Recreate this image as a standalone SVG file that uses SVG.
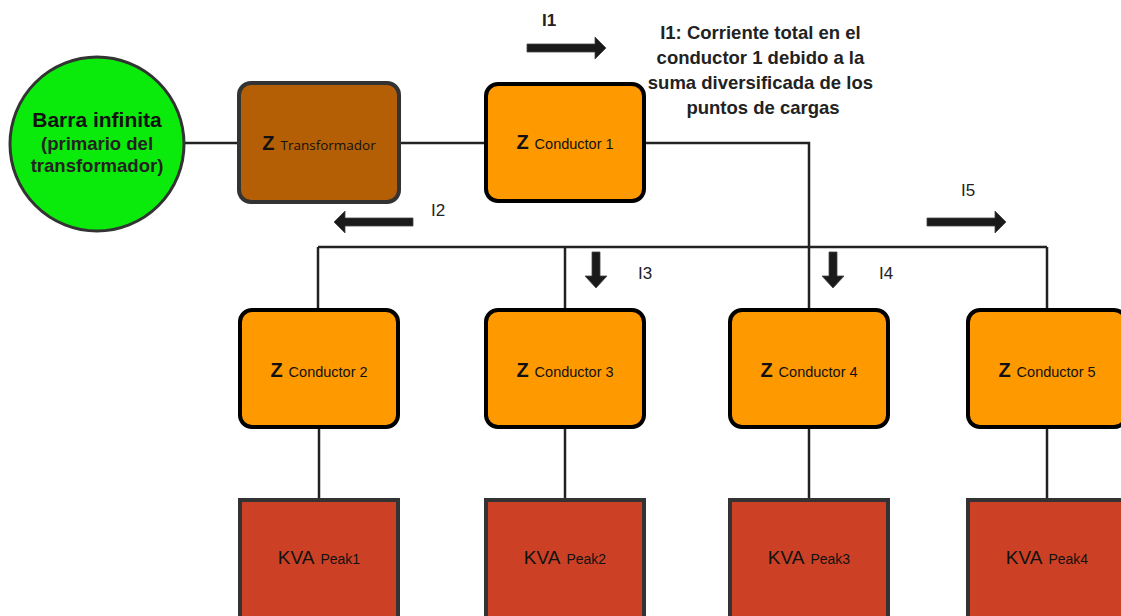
<svg xmlns="http://www.w3.org/2000/svg" width="1121" height="616" viewBox="0 0 1121 616">
<style>
.wire{fill:none;stroke:#222;stroke-width:2.5}
.cond{fill:#FF9900;stroke:#000;stroke-width:4}
.kva{fill:#CC4125;stroke:#333;stroke-width:4}
.arr{fill:#1a1a1a;stroke:#444;stroke-width:0.8}
.z{font-family:"Liberation Sans",Arial,sans-serif;font-weight:bold;font-size:20px;fill:#111}
.sub{font-family:"Liberation Sans",Arial,sans-serif;font-size:14.5px;fill:#111}
.tsub{font-family:"Open Sans","Liberation Sans",sans-serif;font-size:13.5px;fill:#111}
.kv{font-family:"Liberation Sans",Arial,sans-serif;font-size:19px;fill:#111}
.ksub{font-family:"Liberation Sans",Arial,sans-serif;font-size:14px;fill:#111}
.lbl{font-family:"Liberation Sans",Arial,sans-serif;font-size:17px;fill:#222}
.note{font-family:"Liberation Sans",Arial,sans-serif;font-weight:bold;font-size:18.5px;fill:#222}
</style>
<rect width="1121" height="616" fill="#fff"/>
<g id="connectors">
<line class="wire" x1="185" y1="143" x2="238" y2="143"/>
<line class="wire" x1="400" y1="143" x2="485" y2="143"/>
<polyline class="wire" points="645,143 809,143 809,309"/>
<line class="wire" x1="318" y1="247" x2="1047" y2="247"/>
<line class="wire" x1="318" y1="247" x2="318" y2="309"/>
<line class="wire" x1="565" y1="247" x2="565" y2="309"/>
<line class="wire" x1="1047" y1="247" x2="1047" y2="309"/>
<line class="wire" x1="319" y1="428" x2="319" y2="499"/>
<line class="wire" x1="565" y1="428" x2="565" y2="499"/>
<line class="wire" x1="809" y1="428" x2="809" y2="499"/>
<line class="wire" x1="1047" y1="428" x2="1047" y2="499"/>
</g>
<g id="arrows">
<polygon class="arr" points="527,44 595,44 595,37 606,48 595,59 595,52 527,52"/>
<polygon class="arr" points="413,218 345,218 345,211 334,222 345,233 345,226 413,226"/>
<polygon class="arr" points="592,252 600,252 600,276 607,276 596,288 585,276 592,276"/>
<polygon class="arr" points="829,252 837,252 837,276 844,276 833,288 822,276 829,276"/>
<polygon class="arr" points="927,218 995,218 995,211 1006,222 995,233 995,226 927,226"/>
</g>
<g id="labels">
<text class="lbl" x="549" y="26" text-anchor="middle" font-weight="bold">I1</text>
<text class="lbl" x="438" y="216" text-anchor="middle">I2</text>
<text class="lbl" x="645" y="279" text-anchor="middle">I3</text>
<text class="lbl" x="886" y="279" text-anchor="middle">I4</text>
<text class="lbl" x="968" y="196" text-anchor="middle">I5</text>
</g>
<g id="note">
<text class="note" text-anchor="middle">
<tspan x="763" y="39">I1: Corriente total en el</tspan>
<tspan x="763" y="64">conductor 1 debido a la</tspan>
<tspan x="763" y="89">suma diversificada de los</tspan>
<tspan x="763" y="114">puntos de cargas</tspan>
</text>
</g>
<g id="barra">
<circle cx="97" cy="144" r="87" fill="#0BEB0B" stroke="#333" stroke-width="3"/>
<text x="97" y="127" text-anchor="middle" font-family="Liberation Sans, Arial, sans-serif" font-weight="bold" font-size="21" fill="#111">Barra infinita</text>
<text x="97" y="150" text-anchor="middle" font-family="Liberation Sans, Arial, sans-serif" font-weight="bold" font-size="18.5" fill="#222">(primario del</text>
<text x="97" y="172" text-anchor="middle" font-family="Liberation Sans, Arial, sans-serif" font-weight="bold" font-size="18.5" fill="#222">transformador)</text>
</g>
<g id="transformador">
<rect x="239" y="83" width="160" height="119" rx="12" fill="#B45F06" stroke="#333" stroke-width="4"/>
<text x="319" y="150" text-anchor="middle"><tspan class="z">Z</tspan><tspan class="tsub" dx="6">Transformador</tspan></text>
</g>
<g id="conductor1">
<rect class="cond" x="486" y="84" width="158" height="117" rx="12"/>
<text x="565" y="149" text-anchor="middle"><tspan class="z">Z</tspan><tspan class="sub" dx="6">Conductor 1</tspan></text>
</g>
<g id="conductor2">
<rect class="cond" x="240" y="310" width="158" height="117" rx="12"/>
<text x="319" y="377" text-anchor="middle"><tspan class="z">Z</tspan><tspan class="sub" dx="6">Conductor 2</tspan></text>
</g>
<g id="conductor3">
<rect class="cond" x="486" y="310" width="158" height="117" rx="12"/>
<text x="565" y="377" text-anchor="middle"><tspan class="z">Z</tspan><tspan class="sub" dx="6">Conductor 3</tspan></text>
</g>
<g id="conductor4">
<rect class="cond" x="730" y="310" width="158" height="117" rx="12"/>
<text x="809" y="377" text-anchor="middle"><tspan class="z">Z</tspan><tspan class="sub" dx="6">Conductor 4</tspan></text>
</g>
<g id="conductor5">
<rect class="cond" x="968" y="310" width="158" height="117" rx="12"/>
<text x="1047" y="377" text-anchor="middle"><tspan class="z">Z</tspan><tspan class="sub" dx="6">Conductor 5</tspan></text>
</g>
<g id="peak1">
<rect class="kva" x="240" y="500" width="158" height="130"/>
<text x="319" y="564" text-anchor="middle"><tspan class="kv">KVA</tspan><tspan class="ksub" dx="6">Peak1</tspan></text>
</g>
<g id="peak2">
<rect class="kva" x="486" y="500" width="158" height="130"/>
<text x="565" y="564" text-anchor="middle"><tspan class="kv">KVA</tspan><tspan class="ksub" dx="6">Peak2</tspan></text>
</g>
<g id="peak3">
<rect class="kva" x="730" y="500" width="158" height="130"/>
<text x="809" y="564" text-anchor="middle"><tspan class="kv">KVA</tspan><tspan class="ksub" dx="6">Peak3</tspan></text>
</g>
<g id="peak4">
<rect class="kva" x="968" y="500" width="158" height="130"/>
<text x="1047" y="564" text-anchor="middle"><tspan class="kv">KVA</tspan><tspan class="ksub" dx="6">Peak4</tspan></text>
</g>
</svg>
